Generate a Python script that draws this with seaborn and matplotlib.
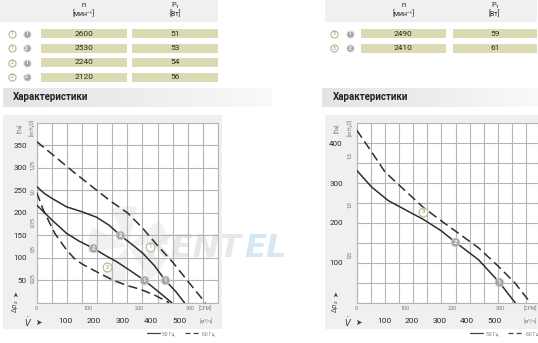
import numpy as np
import matplotlib
matplotlib.use('Agg')
import matplotlib.pyplot as plt
import seaborn as sns
from matplotlib.patches import Rectangle, Wedge
from matplotlib.colors import LinearSegmentedColormap

#%%
# table data (fan type, operating point, speed, power)
left_type = [1, 1, 2, 2]
left_point = [1, 2, 1, 2]
left_rpm = [2600, 2530, 2240, 2120]
left_power = [51, 53, 54, 56]

right_type = [3, 3]
right_point = [1, 2]
right_rpm = [2490, 2410]
right_power = [59, 61]

#%%
# characteristic curves, x in m3/h, y in Pa
t1_60_x = [0, 60, 121, 185, 248, 300, 350, 400, 450, 500, 558]
t1_60_y = [358, 325, 291, 257, 224, 200, 166, 127, 90, 48, 0]

t1_50_x = [0, 25, 50, 99, 150, 198, 240, 276, 320, 351, 390, 425, 460, 489]
t1_50_y = [258, 243, 232, 213, 202, 190, 172, 150, 127, 110, 82, 50, 25, 0]

t2_50_x = [0, 50, 99, 140, 187, 230, 265, 310, 356, 400, 447]
t2_50_y = [217, 184, 154, 137, 121, 104, 91, 71, 50, 26, 0]

t2_60_x = [0, 22, 60, 99, 125, 150, 200, 253, 300, 342, 390, 438]
t2_60_y = [245, 206, 154, 117, 98, 86, 68, 50, 38, 30, 17, 0]

t3_60_x = [0, 53, 100, 170, 236, 300, 349, 431, 502, 561, 615]
t3_60_y = [433, 378, 328, 282, 239, 205, 180, 138, 91, 49, 0]

t3_50_x = [0, 53, 112, 175, 236, 300, 349, 431, 505, 561]
t3_50_y = [332, 290, 256, 232, 209, 180, 152, 108, 51, 0]

# operating points (filled) and type labels (outlined)
left_op_x = [425, 276, 356, 187]
left_op_y = [50, 150, 50, 121]
left_op_num = [1, 2, 1, 2]
left_lbl_x = [375, 234]
left_lbl_y = [124, 79]
left_lbl_num = [1, 2]

right_op_x = [505, 349]
right_op_y = [51, 152]
right_op_num = [1, 2]
right_lbl_x = [236]
right_lbl_y = [228]
right_lbl_num = [3]

cfm_ticks = [0, 100, 200, 300]
flow_ticks = [100, 200, 300, 400, 500]

#%%
sns.set_theme(style='white')
plt.rcParams['font.family'] = ['Roboto', 'DejaVu Sans']

W, H = 538, 343
fig = plt.figure(figsize=(W / 100, H / 100), dpi=100)

GRID = '#b4b4b4'
LINE = '#2e2e2e'
TXT = '#2a2a2a'
FILL = '#a8a4a4'
OLIVE = '#b4b688'
CELL = '#dcdab2'
DASH = (0, (6, 3))

# background layer in pixel coords
bg = fig.add_axes([0, 0, 1, 1], zorder=-5)
bg.set_xlim(0, W)
bg.set_ylim(H, 0)
bg.axis('off')


def badge(ax, x, y, num, filled, s=36, fs=4.3, z=6):
    if filled:
        ax.scatter([x], [y], s=s, color=FILL, edgecolors='#d8d4d4',
                   linewidths=0.6, zorder=z, clip_on=False)
        ax.text(x, y, str(num), color='white', fontsize=fs, fontweight='bold',
                ha='center', va='center', zorder=z + 1)
    else:
        ax.scatter([x], [y], s=s, color='white', edgecolors=OLIVE,
                   linewidths=0.8, zorder=z, clip_on=False)
        ax.text(x, y, str(num), color='#8f9160', fontsize=fs,
                ha='center', va='center', zorder=z + 1)


# tables
def table(x0, ncell, pcell, icon_x, types, points, rpm, power):
    bg.add_patch(Rectangle((x0, 0), pcell[1] - x0, 22, color='#f0f0f0', lw=0))
    nx = (ncell[0] + ncell[1]) / 2
    px = (pcell[0] + pcell[1]) / 2
    bg.text(nx, 5, 'n', fontsize=5.5, ha='center', va='center', color=TXT)
    bg.text(nx, 14, '[мин⁻¹]', fontsize=5, ha='center', va='center', color=TXT)
    bg.text(px, 5, 'P₁', fontsize=5.5, ha='center', va='center', color=TXT)
    bg.text(px, 14, '[Вт]', fontsize=5, ha='center', va='center', color=TXT)
    for i in range(len(rpm)):
        yc = 33.5 + 14.5 * i
        bg.add_patch(Rectangle((ncell[0], yc - 4.5), ncell[1] - ncell[0], 9, color=CELL, lw=0))
        bg.add_patch(Rectangle((pcell[0], yc - 4.5), pcell[1] - pcell[0], 9, color=CELL, lw=0))
        bg.text(nx, yc, str(rpm[i]), fontsize=6, ha='center', va='center', color=TXT)
        bg.text(px, yc, str(power[i]), fontsize=6, ha='center', va='center', color=TXT)
        badge(bg, icon_x[0], yc, types[i], False, s=26, fs=3.6)
        badge(bg, icon_x[1], yc, points[i], True, s=26, fs=3.6)


table(0, (40.7, 126.7), (132.3, 218.3), (11.7, 26.7), left_type, left_point, left_rpm, left_power)
table(325, (360.7, 446), (452.7, 536.7), (334.3, 350), right_type, right_point, right_rpm, right_power)

# section headers with gradient band
grad = LinearSegmentedColormap.from_list('g', ['#e4e4e4', '#ededed', '#fafafa'])
gimg = np.linspace(0, 1, 256).reshape(1, -1)
bg.imshow(gimg, cmap=grad, extent=[3, 272, 107, 88], aspect='auto', zorder=0)
bg.imshow(gimg, cmap=grad, extent=[322, 538, 107, 88], aspect='auto', zorder=0)
bg.set_xlim(0, W)
bg.set_ylim(H, 0)
bg.text(13, 97.5, 'Характеристики', fontsize=7, fontweight='bold', va='center', color='#222222')
bg.text(333, 97.5, 'Характеристики', fontsize=7, fontweight='bold', va='center', color='#222222')

# light grey chart panels and white plot areas
bg.add_patch(Rectangle((3, 115), 219, 214, color='#f0f0f0', lw=0))
bg.add_patch(Rectangle((325, 115), 213, 214, color='#f0f0f0', lw=0))
bg.add_patch(Rectangle((36.7, 122.7), 181.3, 180, color='white', lw=0))
bg.add_patch(Rectangle((356.7, 123.3), 181.3, 179.4, color='white', lw=0))

# faint watermark
for a in [20, 95, 170, 245, 320]:
    bg.add_patch(Wedge((128, 246), 40, a, a + 38, color='#f1f1f1', lw=0, zorder=1))
bg.text(146, 257, 'KENT', fontsize=23, fontweight='bold', fontstyle='italic',
        color='#e8e8e8', zorder=1, family='DejaVu Sans')
bg.text(244, 257, 'EL', fontsize=23, fontweight='bold', fontstyle='italic',
        color='#d8e8f3', zorder=1, family='DejaVu Sans')


#%%
def panel(rect, xmax, ymax, pa_labels, h2o_ticks, h2o_labels, row, pa_pad, h2o_pad):
    ax = fig.add_axes(rect)
    ax.set_facecolor('none')
    ax.set_xlim(0, xmax)
    ax.set_ylim(0, ymax)
    ax.set_xticks(np.arange(0, xmax + 1, 50))
    ax.set_xticklabels([])
    yt = np.arange(0, ymax + 1, 50)
    ax.set_yticks(yt)
    ax.set_yticklabels([str(v) if v in pa_labels else '' for v in yt])
    ax.tick_params(length=0)
    ax.tick_params(axis='y', pad=pa_pad, labelsize=5.8, labelcolor=TXT)
    ax.grid(True, color=GRID, lw=0.8)
    for sp in ax.spines.values():
        sp.set_color(GRID)
        sp.set_linewidth(0.8)

    h2o = ax.secondary_yaxis('left', functions=(lambda p: p / 249.09, lambda h: h * 249.09))
    h2o.set_yticks(h2o_ticks, h2o_labels)
    h2o.tick_params(length=0, pad=h2o_pad, labelsize=3.8, labelcolor='#666666', labelrotation=90)
    h2o.spines['left'].set_visible(False)

    cfm = ax.secondary_xaxis('bottom', functions=(lambda m: m / 1.699, lambda c: c * 1.699))
    cfm.set_xticks(cfm_ticks)
    cfm.tick_params(length=0, pad=2.6, labelsize=4, labelcolor='#777777')
    cfm.spines['bottom'].set_visible(False)

    flow = ax.secondary_xaxis('bottom', functions=(lambda m: m / row, lambda v: v * row))
    flow.set_xticks(flow_ticks)
    flow.tick_params(length=0, pad=11, labelsize=6, labelcolor=TXT)
    flow.spines['bottom'].set_visible(False)
    return ax


ax1 = panel([36.7 / W, 40.3 / H, 181.3 / W, 180 / H], 600, 400,
            [50, 100, 150, 200, 250, 300, 350],
            [0.25, 0.5, 0.75, 1.0, 1.25], ['0,25', '0,5', '0,75', '1,0', '1,25'],
            0.948, 7.2, 1.0)
ax2 = panel([356.7 / W, 40.3 / H, 181.3 / W, 179.4 / H], 642, 450,
            [100, 200, 300, 400],
            [0.5, 1.0, 1.5], ['0,5', '1,0', '1,5'],
            0.976, 10, 3.2)

sns.lineplot(x=t1_60_x, y=t1_60_y, ax=ax1, color=LINE, lw=1.1, linestyle=DASH, zorder=4)
sns.lineplot(x=t1_50_x, y=t1_50_y, ax=ax1, color=LINE, lw=1.1, zorder=4)
sns.lineplot(x=t2_50_x, y=t2_50_y, ax=ax1, color=LINE, lw=1.1, zorder=4)
sns.lineplot(x=t2_60_x, y=t2_60_y, ax=ax1, color=LINE, lw=1.1, linestyle=DASH, zorder=4)

sns.lineplot(x=t3_60_x, y=t3_60_y, ax=ax2, color=LINE, lw=1.1, linestyle=DASH, zorder=4)
sns.lineplot(x=t3_50_x, y=t3_50_y, ax=ax2, color=LINE, lw=1.1, zorder=4)

for x, y, n in zip(left_op_x, left_op_y, left_op_num):
    badge(ax1, x, y, n, True, s=40, fs=4.5)
for x, y, n in zip(left_lbl_x, left_lbl_y, left_lbl_num):
    badge(ax1, x, y, n, False, s=40, fs=4.5)
for x, y, n in zip(right_op_x, right_op_y, right_op_num):
    badge(ax2, x, y, n, True, s=40, fs=4.5)
for x, y, n in zip(right_lbl_x, right_lbl_y, right_lbl_num):
    badge(ax2, x, y, n, False, s=40, fs=4.5)

#%%
# axis decorations in pixel coords
for (xa, xh, xdp, xv, xcfm, xm3, leg) in [(20, 32.5, 16, 28, 205, 206, 146.7),
                                          (337, 350, 336, 348, 530, 530, 470)]:
    bg.text(xa, 128, '[Па]', fontsize=3.8, rotation=90, ha='center', va='center', color='#666666')
    bg.text(xh, 128, '[in H₂O]', fontsize=3.4, rotation=90, ha='center', va='center', color='#666666')
    bg.text(xdp, 294, '➤', fontsize=5, rotation=90, ha='center', va='center', color='#444444',
            family='DejaVu Sans')
    bg.text(xdp, 306, r'$\Delta p_s$', fontsize=5, rotation=90, ha='center', va='center', color='#444444')
    bg.text(xv, 322, r'$\dot{V}$', fontsize=6, ha='center', va='center', color='#333333')
    bg.text(xv + 10, 322, '➤', fontsize=5.5, ha='center', va='center', color='#333333',
            family='DejaVu Sans')
    bg.text(xcfm, 308.3, '[CFM]', fontsize=3.8, ha='center', va='center', color='#777777')
    bg.text(xm3, 322, '[м³/ч]', fontsize=3.6, ha='center', va='center', color='#777777')
    bg.plot([leg, leg + 13], [333.3, 333.3], color='#444444', lw=0.9)
    bg.text(leg + 15.5, 333.3, '50 Гц', fontsize=3.6, va='center', color='#777777')
    bg.plot([leg + 38, leg + 53], [333.3, 333.3], color='#444444', lw=0.9, linestyle=(0, (4, 2.5)))
    bg.text(leg + 55.5, 333.3, '60 Гц', fontsize=3.6, va='center', color='#777777')

fig.savefig('out.png', dpi=100)
